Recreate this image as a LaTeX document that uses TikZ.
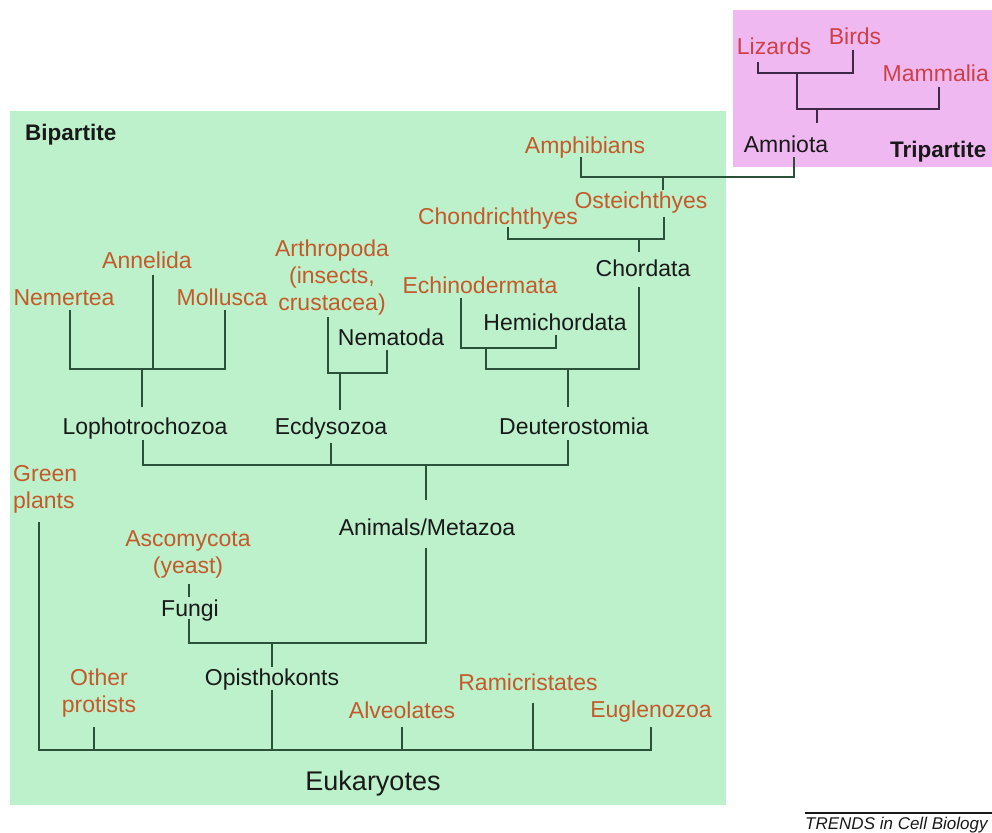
\documentclass[tikz,border=0pt]{standalone}
\usepackage{fontspec}
\setmainfont{Liberation Sans}
\definecolor{greenbg}{RGB}{189,241,203}
\definecolor{pinkbg}{RGB}{240,184,240}
\definecolor{orangetxt}{RGB}{196,90,42}
\definecolor{redtxt}{RGB}{206,64,72}
\definecolor{blacktxt}{RGB}{25,25,25}
\definecolor{linegreen}{RGB}{42,82,56}
\definecolor{linepink}{RGB}{62,40,72}
\tikzset{
  lbl/.style={inner sep=0pt, font=\fontsize{23}{27}\selectfont},
  orglbl/.style={lbl, text=orangetxt},
  blklbl/.style={lbl, text=blacktxt},
  redlbl/.style={lbl, text=redtxt},
  boldlbl/.style={lbl, text=blacktxt, font=\fontsize{22.5}{27}\selectfont\bfseries},
  br/.style={line width=2pt, draw=linegreen},
  brp/.style={line width=2pt, draw=linepink},
}
\begin{document}
\begin{tikzpicture}[x=1pt,y=-1pt]
\useasboundingbox (0,0) rectangle (992,832);
\clip (0,0) rectangle (992,832);
% panels
\fill[greenbg] (10,111) rectangle (726,805);
\fill[pinkbg] (733,10) rectangle (995,167);

% ---------- labels ----------
\node[boldlbl, anchor=base west] (bipartite) at (25,140) {Bipartite};
\node[boldlbl, anchor=base west] (tripartite) at (890,157) {Tripartite};

\node[redlbl, anchor=base] (lizards) at (774,55) {Lizards};
\node[redlbl, anchor=base] (birds) at (855,45) {Birds};
\node[redlbl, anchor=base east] (mammalia) at (989,82) {Mammalia};
\node[blklbl, anchor=base] (amniota) at (786,152) {Amniota};

\node[orglbl, anchor=base] (amphibians) at (585,153) {Amphibians};
\node[orglbl, anchor=base] (osteichthyes) at (641,208) {Osteichthyes};
\node[orglbl, anchor=base] (chondrichthyes) at (498,224) {Chondrichthyes};
\node[blklbl, anchor=base] (chordata) at (643,276) {Chordata};
\node[orglbl, anchor=base] (echinodermata) at (480,293) {Echinodermata};
\node[blklbl, anchor=base] (hemichordata) at (555,330) {Hemichordata};
\node[blklbl, anchor=base] (deuterostomia) at (574,434) {Deuterostomia};

\node[orglbl, anchor=base] (annelida) at (147,268) {Annelida};
\node[orglbl, anchor=base] (nemertea) at (64,305) {Nemertea};
\node[orglbl, anchor=base] (mollusca) at (222,305) {Mollusca};
\node[orglbl, anchor=north, align=center] (arthropoda) at (332,240) {Arthropoda\\(insects,\\crustacea)};
\node[blklbl, anchor=base] (nematoda) at (391,345) {Nematoda};
\node[blklbl, anchor=base] (lopho) at (145,434) {Lophotrochozoa};
\node[blklbl, anchor=base] (ecdyso) at (331,434) {Ecdysozoa};

\node[orglbl, anchor=north west, align=left] (greenplants) at (13,465) {Green\\plants};
\node[blklbl, anchor=base] (animals) at (427,535) {Animals/Metazoa};
\node[orglbl, anchor=north, align=center] (ascomycota) at (188,530) {Ascomycota\\(yeast)};
\node[blklbl, anchor=base] (fungi) at (190,616) {Fungi};
\node[blklbl, anchor=base] (opistho) at (272,685) {Opisthokonts};
\node[orglbl, anchor=north, align=center] (otherprot) at (99,669) {Other\\protists};
\node[orglbl, anchor=base] (alveolates) at (402,718) {Alveolates};
\node[orglbl, anchor=base] (ramicrist) at (528,690) {Ramicristates};
\node[orglbl, anchor=base] (euglenozoa) at (651,717) {Euglenozoa};
\node[blklbl, anchor=base, font=\fontsize{27}{32}\selectfont] (eukaryotes) at (373,790) {Eukaryotes};

\node[inner sep=0pt, anchor=base west, text=blacktxt, font=\fontsize{17}{20}\selectfont\itshape] (trends) at (805,829) {TRENDS in Cell Biology};

% ---------- connector coordinates ----------
% tripartite
\coordinate (lizB) at (758,62);
\coordinate (birB) at (853,50);
\coordinate (lbJ) at (797,73);
\coordinate (mamB) at (939,87);
\coordinate (amnJ) at (817,109);
\coordinate (amnT) at (817,123);
\coordinate (amnB) at (794,157);
\coordinate (amphB) at (581,157);
\coordinate (tetJ) at (663,177);
\coordinate (osteT) at (663,190);
% fishes
\coordinate (chonB) at (508,227);
\coordinate (osteB) at (664,217);
\coordinate (fishJ) at (639,239);
\coordinate (chorT) at (639,252);
\coordinate (chorB) at (639,287);
\coordinate (echB) at (461,298);
\coordinate (hemB) at (556,335);
\coordinate (ambJ) at (486,348);
\coordinate (deuJ) at (568,369);
\coordinate (deuT) at (568,407);
% lophotrochozoa
\coordinate (nemB) at (70,310);
\coordinate (annB) at (153,275);
\coordinate (molB) at (225,310);
\coordinate (lopJ) at (142,369);
\coordinate (lopT) at (142,407);
% ecdysozoa
\coordinate (artB) at (328,317);
\coordinate (nemaB) at (387,350);
\coordinate (ecdJ) at (340,373);
\coordinate (ecdT) at (340,410);
% animals
\coordinate (lopB) at (143,440);
\coordinate (ecdB) at (331,443);
\coordinate (deuB) at (568,440);
\coordinate (aniJ) at (426,465);
\coordinate (aniT) at (426,500);
\coordinate (aniB) at (426,548);
\coordinate (ascB) at (189,584);
\coordinate (funT) at (189,597);
\coordinate (funB) at (189,619);
\coordinate (opiJ) at (272,643);
\coordinate (opiT) at (272,667);
% eukaryotes
\coordinate (gpB) at (39,522);
\coordinate (opB) at (94,727);
\coordinate (opiB) at (272,690);
\coordinate (alvB) at (402,727);
\coordinate (ramB) at (533,703);
\coordinate (eugB) at (651,727);
\coordinate (eukY) at (0,750);

% ---------- connectors ----------
\draw[brp] (lizB) |- (birB |- lbJ) -- (birB);
\draw[brp] (lbJ) |- (amnJ);
\draw[brp] (lbJ |- amnJ) -| (mamB);
\draw[brp] (amnJ) -- (amnT);
\draw[br] (amnB) |- (tetJ) -| (amphB);
\draw[br] (tetJ) -- (osteT);

\draw[br] (chonB) |- (fishJ) -| (osteB);
\draw[br] (fishJ) -- (chorT);
\draw[br] (chorB) |- (ambJ |- deuJ) -- (ambJ);
\draw[br] (echB) |- (ambJ) -| (hemB);
\draw[br] (deuJ) -- (deuT);

\draw[br] (nemB) |- (lopJ) -| (molB);
\draw[br] (annB) -- (annB |- lopJ);
\draw[br] (lopJ) -- (lopT);

\draw[br] (artB) |- (ecdJ) -| (nemaB);
\draw[br] (ecdJ) -- (ecdT);

\draw[br] (lopB) |- (aniJ) -| (deuB);
\draw[br] (ecdB) -- (ecdB |- aniJ);
\draw[br] (aniJ) -- (aniT);
\draw[br] (aniB) |- (opiJ) -| (funB);
\draw[br] (ascB) -- (funT);
\draw[br] (opiJ) -- (opiT);

\draw[br] (gpB) |- (gpB |- eukY) -| (eugB);
\draw[br] (opB) -- (opB |- eukY);
\draw[br] (opiB) -- (opiB |- eukY);
\draw[br] (alvB) -- (alvB |- eukY);
\draw[br] (ramB) -- (ramB |- eukY);

% credit rule
\coordinate (ruleL) at (805,813);
\coordinate (ruleR) at (992,813);
\draw[line width=1.5pt, draw=blacktxt] (ruleL) -- (ruleR);
\end{tikzpicture}
\end{document}
